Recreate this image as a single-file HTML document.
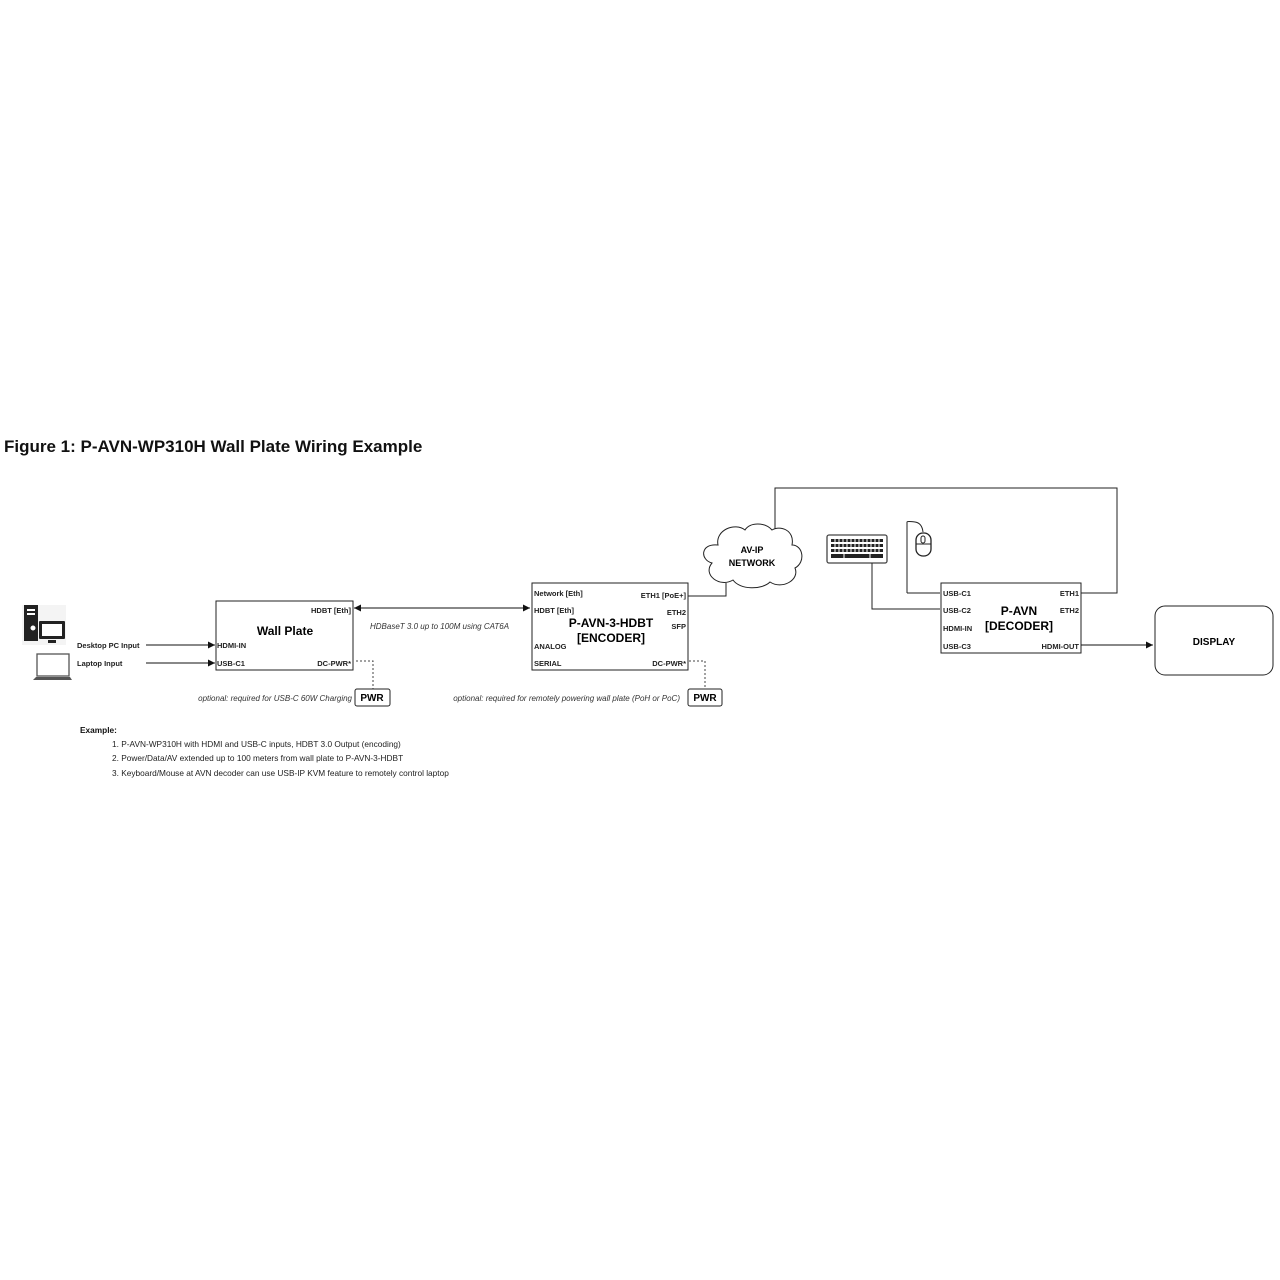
<!DOCTYPE html>
<html><head><meta charset="utf-8"><style>
html,body{margin:0;padding:0;background:#fff;}
svg{display:block;font-family:"Liberation Sans",Arial,sans-serif;}
.s{font-size:7.5px;font-weight:bold;fill:#222}
.i{font-size:8px;font-style:italic;fill:#333}
</style></head><body>
<svg width="1280" height="1280" viewBox="0 0 1280 1280" xmlns="http://www.w3.org/2000/svg">
<defs><marker id="a" markerWidth="8" markerHeight="8" refX="7" refY="4" orient="auto-start-reverse" markerUnits="userSpaceOnUse"><path d="M0,0.5 L7,4 L0,7.5 Z" fill="#111"/></marker></defs>
<rect width="1280" height="1280" fill="#fff"/>
<text x="4" y="452" font-size="17" font-weight="bold" fill="#111">Figure 1: P-AVN-WP310H Wall Plate Wiring Example</text>

<rect x="22" y="605" width="44" height="40" fill="#f4f4f4"/>
<rect x="24" y="605" width="14" height="36" fill="#222"/>
<rect x="27" y="609" width="8" height="2" fill="#fff"/><rect x="27" y="613" width="8" height="2" fill="#fff"/>
<circle cx="33" cy="628" r="3" fill="#fff" stroke="#222"/>
<rect x="39" y="621" width="26" height="18" rx="1" fill="#222"/>
<rect x="42" y="624" width="20" height="12" fill="#fff"/>
<rect x="48" y="640" width="8" height="3" fill="#222"/>
<rect x="37" y="654" width="32" height="22" fill="#fff" stroke="#555" stroke-width="1.3"/>
<path d="M33,680 L72,680 L70,677 L36,677 Z" fill="#555"/>
<text class="s" x="77" y="648">Desktop PC Input</text>
<text class="s" x="77" y="666">Laptop Input</text>
<line x1="146" y1="645" x2="215" y2="645" stroke="#111" marker-end="url(#a)"/>
<line x1="146" y1="663" x2="215" y2="663" stroke="#111" marker-end="url(#a)"/>

<rect x="216" y="601" width="137" height="69" fill="#fff" stroke="#222"/>
<text x="285" y="635" text-anchor="middle" font-size="12" font-weight="bold">Wall Plate</text>
<text class="s" x="217" y="648">HDMI-IN</text>
<text class="s" x="217" y="666">USB-C1</text>
<text class="s" x="351" y="613" text-anchor="end">HDBT [Eth]</text>
<text class="s" x="351" y="666" text-anchor="end">DC-PWR*</text>
<line x1="354" y1="608" x2="530" y2="608" stroke="#111" marker-start="url(#a)" marker-end="url(#a)"/>
<text class="i" x="370" y="629">HDBaseT 3.0 up to 100M using CAT6A</text>
<path d="M356,661 H373 V689" fill="none" stroke="#444" stroke-dasharray="2,2"/>
<rect x="355" y="689" width="35" height="17" rx="2" fill="#fff" stroke="#222"/>
<text x="372" y="701" text-anchor="middle" font-size="10" font-weight="bold">PWR</text>
<text class="i" x="352" y="701" text-anchor="end">optional: required for USB-C 60W Charging</text>

<rect x="532" y="583" width="156" height="87" fill="#fff" stroke="#222"/>
<text class="s" x="534" y="596">Network [Eth]</text>
<text class="s" x="534" y="613">HDBT [Eth]</text>
<text class="s" x="534" y="649">ANALOG</text>
<text class="s" x="534" y="666">SERIAL</text>
<text class="s" x="686" y="598" text-anchor="end">ETH1 [PoE+]</text>
<text class="s" x="686" y="615" text-anchor="end">ETH2</text>
<text class="s" x="686" y="629" text-anchor="end">SFP</text>
<text class="s" x="686" y="666" text-anchor="end">DC-PWR*</text>
<text x="611" y="627" text-anchor="middle" font-size="12" font-weight="bold">P-AVN-3-HDBT</text>
<text x="611" y="642" text-anchor="middle" font-size="12" font-weight="bold">[ENCODER]</text>
<path d="M689,661 H705 V689" fill="none" stroke="#444" stroke-dasharray="2,2"/>
<rect x="688" y="689" width="34" height="17" rx="2" fill="#fff" stroke="#222"/>
<text x="705" y="701" text-anchor="middle" font-size="10" font-weight="bold">PWR</text>
<text class="i" x="680" y="701" text-anchor="end">optional: required for remotely powering wall plate (PoH or PoC)</text>

<path d="M688,596 H726 V583" fill="none" stroke="#222"/>
<path d="M775,533 V488 H1117 V593 H1081" fill="none" stroke="#222"/>
<path d="M718,545 C700,543 700,560 712,563 C702,575 720,588 733,580 C740,590 762,590 770,582 C782,590 800,580 795,568 C806,562 803,545 792,545 C795,530 780,525 772,530 C765,522 750,522 745,530 C735,522 715,530 718,545 Z" fill="#fff" stroke="#222"/>
<text x="752" y="553" text-anchor="middle" font-size="9" font-weight="bold">AV-IP</text>
<text x="752" y="566" text-anchor="middle" font-size="9" font-weight="bold">NETWORK</text>

<rect x="827" y="535" width="60" height="28" rx="2" fill="#fff" stroke="#444" stroke-width="1.3"/>
<g fill="#222">
<rect x="831" y="539" width="52" height="3"/><rect x="831" y="544" width="52" height="3"/><rect x="831" y="549" width="52" height="3"/><rect x="831" y="554" width="52" height="4"/>
</g>
<g stroke="#fff" stroke-width="1"><path d="M835,539V552M839,539V552M843,539V552M847,539V552M851,539V552M855,539V552M859,539V552M863,539V552M867,539V552M871,539V552M875,539V552M879,539V552M844,554V558M870,554V558"/></g>
<path d="M872,563 V609 H940" fill="none" stroke="#222"/>
<path d="M907,593 V522 Q907,521 915,522 Q922,523 923,532" fill="none" stroke="#222"/>
<rect x="916" y="533" width="15" height="23" rx="7" fill="#fff" stroke="#222" stroke-width="1.3"/>
<rect x="921" y="536" width="4" height="7" rx="2" fill="#fff" stroke="#222"/>
<line x1="916" y1="544" x2="931" y2="544" stroke="#222"/>
<path d="M907,593 H940" fill="none" stroke="#222"/>

<rect x="941" y="583" width="140" height="70" fill="#fff" stroke="#222"/>
<text class="s" x="943" y="596">USB-C1</text>
<text class="s" x="943" y="613">USB-C2</text>
<text class="s" x="943" y="631">HDMI-IN</text>
<text class="s" x="943" y="649">USB-C3</text>
<text class="s" x="1079" y="596" text-anchor="end">ETH1</text>
<text class="s" x="1079" y="613" text-anchor="end">ETH2</text>
<text class="s" x="1079" y="649" text-anchor="end">HDMI-OUT</text>
<text x="1019" y="615" text-anchor="middle" font-size="12" font-weight="bold">P-AVN</text>
<text x="1019" y="630" text-anchor="middle" font-size="12" font-weight="bold">[DECODER]</text>
<line x1="1081" y1="645" x2="1153" y2="645" stroke="#111" marker-end="url(#a)"/>
<rect x="1155" y="606" width="118" height="69" rx="10" fill="#fff" stroke="#222"/>
<text x="1214" y="645" text-anchor="middle" font-size="10" font-weight="bold">DISPLAY</text>

<text x="80" y="733" font-size="8.3" font-weight="bold" fill="#111">Example:</text>
<text x="112" y="747" font-size="8.3" fill="#222">1. P-AVN-WP310H with HDMI and USB-C inputs, HDBT 3.0 Output (encoding)</text>
<text x="112" y="761" font-size="8.3" fill="#222">2. Power/Data/AV extended up to 100 meters from wall plate to P-AVN-3-HDBT</text>
<text x="112" y="776" font-size="8.3" fill="#222">3. Keyboard/Mouse at AVN decoder can use USB-IP KVM feature to remotely control laptop</text>
</svg>
</body></html>
